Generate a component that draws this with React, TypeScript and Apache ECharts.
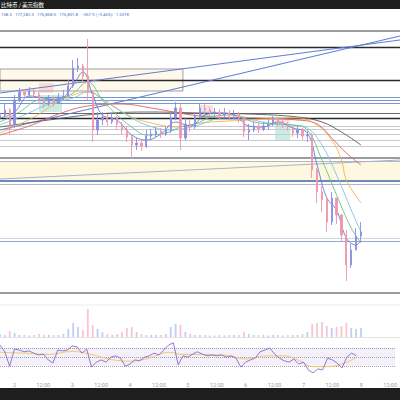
import React, { useEffect, useRef } from "react";
import * as echarts from "echarts";

// ---- time axis ----
const tickLabels = ["2", "12:00", "3", "12:00", "4", "12:00", "5", "12:00", "6", "12:00", "7", "12:00", "8", "12:00"];
const SLOT_COUNT = 83; // 2-hour slots, first slot = day 1 18:00
const FIRST_TICK_SLOT = 3;
const SLOTS_PER_TICK = 6;

// ---- price candles (2h) ----
const firstOpen = 177100;
const closes = [
  177250, 177500, 176750, 178000, 178400, 178250, 178450, 178300, 178000, 177800,
  178050, 177850, 178150, 178200, 178700, 179600, 179700, 179200, 178400, 176500,
  177000, 177150, 176900, 177100, 176800, 176500, 176150, 175750, 175850, 175700,
  176200, 176300, 176450, 176300, 176500, 177100, 177600, 176100, 176800, 176650,
  177200, 177600, 177500, 177350, 177400, 177250, 177350, 177200, 177300, 177100,
  176400, 176500, 176700, 176550, 176700, 176800, 177000, 176900, 176750, 176650,
  176350, 176500, 176200, 176250, 174500, 173400, 173000, 171900, 173100, 172250,
  171250, 169750, 170500, 171200, 171400,
];
const highs = [
  177600, 177800, 177600, 178250, 178600, 178550, 178650, 178550, 178400, 178150,
  178250, 178200, 178350, 178500, 179000, 180000, 180100, 179800, 181050, 178500,
  177400, 177400, 177300, 177350, 177200, 176900, 176700, 176300, 176100, 176050,
  176500, 176550, 176650, 176600, 176700, 177400, 177900, 177800, 177100, 177050,
  177400, 177800, 177800, 177650, 177600, 177550, 177600, 177500, 177500, 177400,
  177200, 176800, 176900, 176850, 176900, 177050, 177200, 177150, 177050, 176900,
  176700, 176700, 176600, 176450, 176350, 174600, 173700, 173200, 173400, 173100,
  172300, 171500, 170800, 171600, 171900,
];
const lows = [
  177000, 177150, 176250, 176600, 177900, 178050, 178150, 178100, 177800, 177600,
  177700, 177650, 177800, 177950, 178100, 178600, 179400, 178900, 178000, 175900,
  176250, 176750, 176700, 176800, 176550, 176250, 175900, 175100, 175500, 175450,
  175600, 176000, 176150, 176100, 176200, 176350, 177000, 175500, 176000, 176400,
  176550, 177100, 177300, 177200, 177100, 177050, 177100, 177000, 177050, 176850,
  176150, 176000, 176400, 176350, 176450, 176500, 176700, 176700, 176600, 176450,
  176150, 176100, 176000, 175900, 174100, 172850, 172400, 171400, 171750, 171800,
  170900, 168950, 169600, 170500, 171000,
];
const volumes = [
  150, 100, 300, 200, 100, 100, 75, 100, 150, 100,
  100, 100, 100, 150, 400, 700, 500, 350, 1400, 600,
  400, 250, 150, 100, 150, 250, 450, 500, 250, 150,
  100, 100, 100, 100, 150, 500, 650, 600, 250, 150,
  100, 100, 100, 75, 75, 100, 75, 100, 100, 100,
  250, 150, 100, 100, 100, 75, 100, 100, 75, 100,
  100, 100, 150, 250, 650, 700, 750, 550, 450, 500,
  550, 700, 450, 400, 450,
];
const rsi = [
  76, 61, 29, 67, 65, 61, 63, 58, 54, 56,
  43, 36, 65, 63, 65, 74, 72, 58, 67, 27,
  38, 43, 38, 49, 52, 47, 29, 34, 43, 41,
  49, 52, 58, 54, 65, 76, 81, 32, 52, 49,
  56, 61, 56, 52, 54, 52, 54, 49, 52, 47,
  27, 38, 43, 47, 61, 65, 69, 56, 47, 41,
  38, 45, 34, 38, 21, 14, 23, 21, 47, 43,
  36, 25, 49, 58, 52,
];
const rsiMa = [[0, 60], [5, 58], [10, 55], [15, 62], [19, 55], [23, 44], [27, 40], [31, 47], [35, 60], [38, 55], [42, 55], [47, 53], [51, 45], [55, 52], [59, 52], [62, 42], [65, 28], [68, 28], [71, 34], [74, 48]];

// ---- moving averages [slot, price] ----
const maBlue = [[0, 177100], [3, 177400], [6, 178200], [9, 178100], [12, 178000], [15, 178750], [17, 179400], [19, 178250], [21, 177250], [24, 177000], [27, 176250], [30, 176000], [33, 176300], [36, 176900], [39, 176700], [42, 177250], [45, 177350], [48, 177250], [51, 176700], [54, 176650], [57, 176900], [60, 176600], [63, 176350], [65, 174750], [67, 173100], [69, 172500], [71, 171100], [73, 170750], [74, 171000]];
const maGreen = [[0, 176900], [4, 177400], [8, 178000], [12, 178050], [15, 178350], [18, 178900], [21, 178000], [24, 177250], [27, 176650], [30, 176250], [34, 176350], [37, 176650], [40, 176800], [44, 177200], [48, 177250], [52, 176900], [56, 176800], [60, 176750], [63, 176500], [66, 175000], [69, 173250], [72, 171600], [74, 170850]];
const maTeal = [[0, 176750], [5, 177250], [10, 177800], [15, 178100], [18, 178400], [22, 177900], [26, 177250], [30, 176750], [35, 176500], [40, 176700], [45, 177050], [50, 177050], [55, 176850], [60, 176750], [63, 176600], [66, 175750], [69, 174250], [72, 172500], [74, 171400]];
const maYellow = [[0, 176350], [7, 177150], [12, 177900], [18, 178400], [22, 177850], [27, 177150], [31, 176850], [36, 176650], [41, 176850], [51, 177000], [61, 177100], [65, 176750], [68, 176000], [70, 175000], [71, 174000], [74, 172850]];
const maRed = [[0, 176250], [6, 176700], [12, 177300], [18, 177700], [25, 177800], [31, 177600], [41, 177200], [51, 177100], [61, 177000], [65, 176800], [68, 176100], [71, 175350], [74, 174750]];
const maDark = [[0, 176650], [10, 177000], [20, 177300], [31, 177400], [41, 177350], [51, 177300], [61, 177150], [66, 176900], [70, 176400], [74, 175750]];

// ---- drawings ----
const levelPrices = [181450, 180650, 179000, 178150, 178000, 177850, 177350, 177100, 176700, 176550, 176300, 176000, 175700, 175100, 174950, 173950, 173800, 171100, 170950, 168350];
const levelKinds = ["grayBold", "black", "black", "blue", "blue", "blue", "dark", "black", "light", "light", "light", "light", "light", "grayBold", "gray", "navy", "gray", "paleBlue", "steel", "grayBold"];
const trendFrom = [[0, 178350], [0, 176500], [0, 174050]];
const trendTo = [[82, 181000], [82, 181200], [82, 175000]];
const zoneFrom = [[0, 179550], [0, 174950], [8, 178850], [8, 178250], [41, 177750], [41, 177450], [56.4, 177000], [56.4, 176750]];
const zoneTo = [[37.5, 178450], [82, 173950], [11, 178350], [12.7, 177400], [43.7, 177450], [43.7, 177000], [59.5, 176750], [59.5, 176000]];
const zoneKinds = ["range", "band", "short", "long", "short", "long", "short", "long"];

const LEVEL_STYLE: Record<string, { color: string; width: number }> = {
  grayBold: { color: "#9a9ca3", width: 2 },
  black: { color: "#2a2a2a", width: 1.4 },
  blue: { color: "#7797d4", width: 1 },
  dark: { color: "#6a6a6a", width: 1 },
  light: { color: "#cacace", width: 1 },
  gray: { color: "#b4b7be", width: 1 },
  navy: { color: "#4262a8", width: 1.5 },
  paleBlue: { color: "#ccd6e6", width: 1 },
  steel: { color: "#94a8cc", width: 1 },
};
const ZONE_STYLE: Record<string, any> = {
  range: { color: "rgba(255,240,205,0.4)", borderColor: "#a0a0a0", borderWidth: 1 },
  band: { color: "rgba(255,245,215,0.75)", borderWidth: 0 },
  short: { color: "rgba(242,130,150,0.25)", borderWidth: 0 },
  long: { color: "rgba(70,185,155,0.28)", borderWidth: 0 },
};

const UP = "#8b90e0";
const DOWN = "#ee97ae";

export default function App() {
  const ref = useRef<HTMLDivElement>(null);
  useEffect(() => {
    const chart = echarts.init(ref.current!, undefined, { renderer: "svg" });
    const categories = Array.from({ length: SLOT_COUNT }, (_, i) => {
      const h = 18 + 2 * i;
      return `${1 + Math.floor(h / 24)}日 ${String(h % 24).padStart(2, "0")}:00`;
    });
    const opens = closes.map((_, i) => (i === 0 ? firstOpen : closes[i - 1]));
    const candleData = closes.map((c, i) => [opens[i], c, lows[i], highs[i]]);
    const volData = volumes.map((v, i) => ({
      value: v,
      itemStyle: { color: closes[i] >= opens[i] ? "rgba(120,145,235,0.45)" : "rgba(240,125,155,0.45)" },
    }));
    const maSeries = (data: number[][], color: string, width = 0.9) => ({
      type: "line",
      xAxisIndex: 3,
      yAxisIndex: 0,
      data,
      smooth: 0.4,
      showSymbol: false,
      silent: true,
      lineStyle: { color, width },
      z: 3,
    });

    const option: any = {
      animation: false,
      backgroundColor: "#ffffff",
      textStyle: { fontFamily: "Roboto, 'DejaVu Sans', sans-serif" },
      grid: [
        { left: 0, right: 0, top: 28, height: 272 },
        { left: 0, right: 0, top: 305, height: 32 },
        { left: 0, right: 0, top: 341, height: 36 },
      ],
      xAxis: [
        { type: "category", gridIndex: 0, data: categories, boundaryGap: false, show: false },
        { type: "category", gridIndex: 1, data: categories, boundaryGap: false, show: false },
        {
          type: "category",
          gridIndex: 2,
          data: categories,
          boundaryGap: false,
          axisLine: { show: false },
          axisTick: { show: false },
          splitLine: { show: false },
          axisLabel: {
            color: "#9a9da5",
            fontSize: 5.5,
            margin: 5,
            interval: (i: number) => i >= FIRST_TICK_SLOT && (i - FIRST_TICK_SLOT) % SLOTS_PER_TICK === 0,
            formatter: (_v: string, i: number) => tickLabels[(i - FIRST_TICK_SLOT) / SLOTS_PER_TICK] ?? "",
          },
        },
        { type: "value", gridIndex: 0, min: 0, max: SLOT_COUNT - 1, show: false },
      ],
      yAxis: [
        { type: "value", gridIndex: 0, min: 168000, max: 181600, show: false },
        { type: "value", gridIndex: 1, min: 0, max: 1600, show: false },
        { type: "value", gridIndex: 2, min: 5, max: 85, show: false },
      ],
      series: [
        {
          type: "line",
          xAxisIndex: 3,
          yAxisIndex: 0,
          data: [[0, 170000]],
          showSymbol: false,
          symbolSize: 0,
          lineStyle: { opacity: 0 },
          silent: true,
          z: 1,
          markArea: {
            silent: true,
            z: 1,
            data: zoneFrom.map((f, i) => [
              { coord: f, itemStyle: ZONE_STYLE[zoneKinds[i]] },
              { coord: zoneTo[i] },
            ]),
          },
          markLine: {
            silent: true,
            z: 2,
            symbol: "none",
            label: { show: false },
            data: [
              ...levelPrices.map((p, i) => ({
                yAxis: p,
                lineStyle: { type: "solid", color: LEVEL_STYLE[levelKinds[i]].color, width: LEVEL_STYLE[levelKinds[i]].width },
              })),
              ...trendFrom.map((f, i) => [
                { coord: f, lineStyle: { type: "solid", color: i === 2 ? "#a3b3cf" : "#5f7fd2", width: 1.1 } },
                { coord: trendTo[i] },
              ]),
            ],
          },
        },
        maSeries(maDark, "#5a5a5a"),
        maSeries(maRed, "#dc5f5f"),
        maSeries(maYellow, "#f2b447"),
        maSeries(maTeal, "#7cc4de"),
        maSeries(maGreen, "#66c284"),
        maSeries(maBlue, "#6279dc"),
        {
          type: "candlestick",
          xAxisIndex: 0,
          yAxisIndex: 0,
          data: candleData,
          barWidth: 1.8,
          z: 4,
          itemStyle: { color: UP, color0: DOWN, borderColor: UP, borderColor0: DOWN, borderWidth: 0.9 },
        },
        {
          type: "bar",
          xAxisIndex: 1,
          yAxisIndex: 1,
          data: volData,
          barWidth: 1.8,
          silent: true,
        },
        {
          type: "line",
          xAxisIndex: 2,
          yAxisIndex: 2,
          data: rsi,
          showSymbol: false,
          lineStyle: { color: "#8a68cc", width: 0.9 },
          z: 3,
          markArea: {
            silent: true,
            itemStyle: { color: "rgba(126,87,194,0.09)" },
            data: [[{ yAxis: 70 }, { yAxis: 30 }]],
          },
          markLine: {
            silent: true,
            z: 2,
            symbol: "none",
            label: { show: false },
            lineStyle: { type: "dotted", color: "#a0a3ab", width: 1 },
            data: [{ yAxis: 70 }, { yAxis: 50 }, { yAxis: 30 }],
          },
        },
        {
          type: "line",
          xAxisIndex: 2,
          yAxisIndex: 2,
          data: rsiMa,
          smooth: 0.4,
          showSymbol: false,
          lineStyle: { color: "#f2c65a", width: 0.9 },
          z: 2,
        },
      ],
      graphic: [
        { type: "rect", left: 0, top: 0, shape: { width: 400, height: 9 }, style: { fill: "#1e1e1e" } },
        { type: "rect", left: 0, top: 388, shape: { width: 400, height: 12 }, style: { fill: "#1e1e1e" } },
        { type: "text", left: 1, top: 2, style: { text: "比特币 / 美元指数", fill: "#ffffff", fontSize: 5.5, fontFamily: "'Noto Sans CJK SC', sans-serif" } },
        { type: "text", left: 1, top: 12, style: { text: "158.5   177,282.3   176,858.0   176,801.8   −357.9 (−0.46%)   1.531K", fill: "#4a6fd0", fontSize: 4.3, fontFamily: "Roboto, sans-serif" } },
        { type: "line", shape: { x1: 0, y1: 305, x2: 400, y2: 305 }, style: { stroke: "#ececec", lineWidth: 1 } },
        { type: "line", shape: { x1: 0, y1: 337.5, x2: 400, y2: 337.5 }, style: { stroke: "#e4e4e4", lineWidth: 1 } },
      ],
    };
    chart.setOption(option);
    return () => chart.dispose();
  }, []);
  return (
    <div
      ref={ref}
      style={{ position: "fixed", left: 0, top: 0, width: 400, height: 400, background: "#fff" }}
    />
  );
}
